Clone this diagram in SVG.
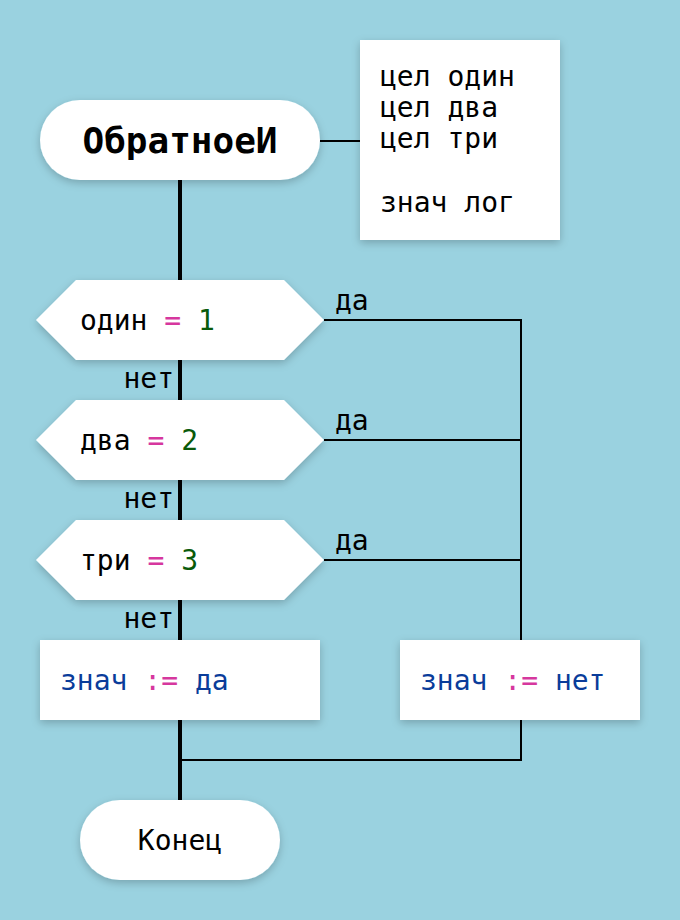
<svg xmlns="http://www.w3.org/2000/svg" width="680" height="920" viewBox="0 0 680 920">
<defs>
<filter id="sh" x="-20%" y="-20%" width="140%" height="150%">
<feDropShadow dx="0" dy="3" stdDeviation="4" flood-color="#000" flood-opacity="0.22"/>
</filter>
<style>
.t{font-family:"DejaVu Sans Mono","Liberation Mono",monospace;font-size:28px;fill:#000;white-space:pre}
.b{fill:#0A3C9A}
.p{fill:#D6379E}
.g{fill:#0A5A0A}
.n{fill:#fff;filter:url(#sh)}
.thick{stroke:#000;stroke-width:4;fill:none}
.thin{stroke:#000;stroke-width:2;fill:none}
</style>
</defs>
<rect width="680" height="920" fill="#9AD2E0"/>
<g id="connectors">
<line class="thick" x1="180" y1="180" x2="180" y2="800"/>
<line class="thin" x1="320" y1="141" x2="360" y2="141"/>
<polyline class="thin" points="324,320 521,320 521,640"/>
<line class="thin" x1="324" y1="440" x2="521" y2="440"/>
<line class="thin" x1="324" y1="560" x2="521" y2="560"/>
<polyline class="thin" points="521,720 521,760 180,760"/>
<text class="t" x="335" y="310">да</text>
<text class="t" x="335" y="430">да</text>
<text class="t" x="335" y="550">да</text>
<text class="t" x="174" y="388" text-anchor="end">нет</text>
<text class="t" x="174" y="508" text-anchor="end">нет</text>
<text class="t" x="174" y="628" text-anchor="end">нет</text>
</g>
<g id="start">
<rect class="n" x="40" y="100" width="280" height="80" rx="40"/>
<text class="t" x="180" y="153" text-anchor="middle" style="font-size:36px;font-weight:bold">ОбратноеИ</text>
</g>
<g id="decl">
<rect class="n" x="360" y="40" width="200" height="200"/>
<text class="t" x="380" y="86">цел один</text>
<text class="t" x="380" y="117">цел два</text>
<text class="t" x="380" y="148">цел три</text>
<text class="t" x="380" y="212">знач лог</text>
</g>
<g id="cond1">
<polygon class="n" points="36,320 76,280 284,280 324,320 284,360 76,360"/>
<text class="t" x="80" y="330">один <tspan class="p">=</tspan> <tspan class="g">1</tspan></text>
</g>
<g id="cond2">
<polygon class="n" points="36,440 76,400 284,400 324,440 284,480 76,480"/>
<text class="t" x="80" y="450">два <tspan class="p">=</tspan> <tspan class="g">2</tspan></text>
</g>
<g id="cond3">
<polygon class="n" points="36,560 76,520 284,520 324,560 284,600 76,600"/>
<text class="t" x="80" y="570">три <tspan class="p">=</tspan> <tspan class="g">3</tspan></text>
</g>
<g id="assignYes">
<rect class="n" x="40" y="640" width="280" height="80"/>
<text class="t" x="60" y="690"><tspan class="b">знач</tspan> <tspan class="p">:=</tspan> <tspan class="b">да</tspan></text>
</g>
<g id="assignNo">
<rect class="n" x="400" y="640" width="240" height="80"/>
<text class="t" x="420" y="690"><tspan class="b">знач</tspan> <tspan class="p">:=</tspan> <tspan class="b">нет</tspan></text>
</g>
<g id="end">
<rect class="n" x="80" y="800" width="200" height="80" rx="40"/>
<text class="t" x="180" y="850" text-anchor="middle">Конец</text>
</g>
</svg>
